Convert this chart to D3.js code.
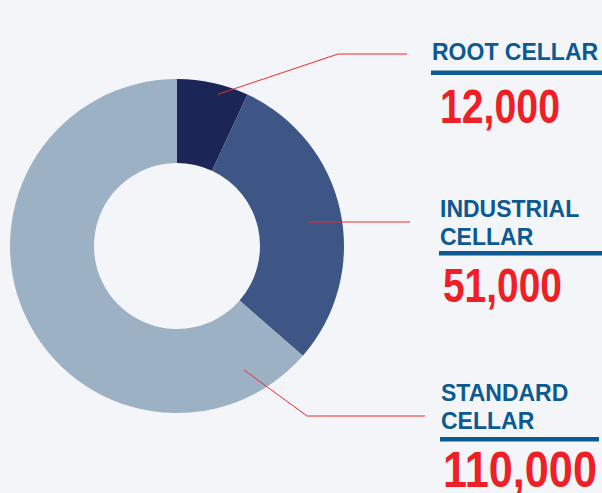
<!DOCTYPE html>
<html>
<head>
<meta charset="utf-8">
<script src="https://cdn.jsdelivr.net/npm/d3@7"></script>
<style>
  html, body { margin: 0; padding: 0; background: #f4f5f9; }
  svg { display: block; }
</style>
</head>
<body>
<svg id="chart" width="602" height="493"></svg>
<script>
// data
var categories = ['ROOT CELLAR', 'INDUSTRIAL CELLAR', 'STANDARD CELLAR'];
var labelLines = [['ROOT CELLAR'], ['INDUSTRIAL', 'CELLAR'], ['STANDARD', 'CELLAR']];
var values = [12000, 51000, 110000];
var colors = ['#1b2656', '#3d5686', '#9db1c4'];

var svg = d3.select('#chart');
var cx = 177, cy = 246, outerR = 167, innerR = 83;

var pie = d3.pie().sort(null).value(function (d) { return d; });
var arcs = pie(values);
var arc = d3.arc().innerRadius(innerR).outerRadius(outerR);

var g = svg.append('g').attr('transform', 'translate(' + cx + ',' + cy + ')');

g.selectAll('path.slice')
    .data(arcs)
    .enter()
    .append('path')
    .classed('slice', true)
    .attr('d', arc)
    .attr('fill', function (d, i) { return colors[i]; });

// leader lines: anchor angle (deg, clockwise from top), anchor radius, elbow, end
var leaders = [
    { a: 15, r: 157, elbow: [338, 54], end: 407 },
    { a: 79.6, r: 133, elbow: null, end: 410 },
    { a: 151.6, r: 141, elbow: [307, 416], end: 425 }
];

leaders.forEach(function (l) {
    var rad = l.a * Math.PI / 180;
    var sx = cx + l.r * Math.sin(rad);
    var sy = cy - l.r * Math.cos(rad);
    var pts = [[sx, sy]];
    if (l.elbow) {
        pts.push(l.elbow);
        pts.push([l.end, l.elbow[1]]);
    } else {
        pts.push([l.end, sy]);
    }
    svg.append('path')
        .attr('d', d3.line()(pts))
        .attr('fill', 'none')
        .attr('stroke', '#ee2a2f')
        .attr('stroke-width', 1);
});

// label blocks
var blocks = [
    { x: 432, base: 60, bar: 72.5, barEnd: 602, vx: 440, vy: 123, vw: 120 },
    { x: 440, base: 217, bar: 253, barEnd: 602, vx: 443, vy: 302, vw: 119 },
    { x: 441, base: 401, bar: 439, barEnd: 599, vx: 443, vy: 487, vw: 154 }
];
var fmt = d3.format(',');

blocks.forEach(function (b, i) {
    var t = svg.append('text')
        .attr('x', b.x)
        .attr('y', b.base)
        .attr('fill', '#0c5a91')
        .attr('font-family', 'Liberation Sans, Arial, sans-serif')
        .attr('font-weight', 'bold')
        .attr('font-size', 23);
    labelLines[i].forEach(function (line, j) {
        t.append('tspan')
            .attr('x', b.x)
            .attr('dy', j === 0 ? 0 : 28)
            .text(line);
    });

    svg.append('rect')
        .attr('x', b.x - 1)
        .attr('y', b.bar - 2)
        .attr('width', b.barEnd - b.x + 1)
        .attr('height', 4.5)
        .attr('fill', '#0c5a91');

    var v = svg.append('text')
        .attr('x', b.vx)
        .attr('y', b.vy)
        .attr('fill', '#ee1f26')
        .attr('font-family', 'Liberation Sans Narrow, Arial Narrow, Liberation Sans, sans-serif')
        .attr('font-weight', 'bold')
        .attr('font-size', 49)
        .text(fmt(values[i]));
    var w = v.node().getComputedTextLength();
    var s = b.vw / w;
    v.attr('transform', 'translate(' + b.vx + ',0) scale(' + s + ',1) translate(' + (-b.vx) + ',0)');
});
</script>
</body>
</html>
